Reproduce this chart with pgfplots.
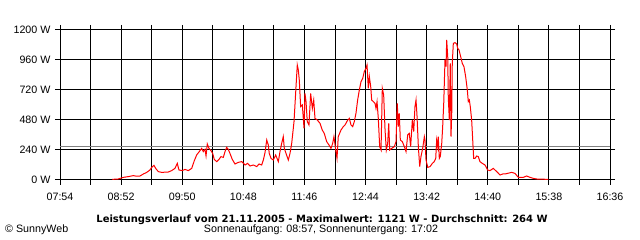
\documentclass[border=0pt]{standalone}
\usepackage{pgfplots}
\pgfplotsset{compat=1.18}
\usepackage{fontspec}
\setmainfont{Liberation Sans}
\newfontfamily\titlefont{DejaVu Sans}
\definecolor{avggray}{RGB}{128,128,128}
\begin{document}
\begin{tikzpicture}[x=1pt,y=1pt]
\useasboundingbox (0,0) rectangle (640,240);
\begin{axis}[
  at={(60pt,60pt)}, anchor=south west,
  scale only axis, width=550pt, height=150pt,
  xmin=474, xmax=996, ymin=0, ymax=1200,
  axis line style={black, line width=1pt},
  xtick={474,532,590,648,706,764,822,880,938,996},
  xticklabels={07:54,08:52,09:50,10:48,11:46,12:44,13:42,14:40,15:38,16:36},
  minor xtick={503,561,619,677,735,793,851,909,967},
  ytick={0,240,480,720,960,1200},
  yticklabels={0 W,240 W,480 W,720 W,960 W,1200 W},
  grid=both,
  major grid style={black, line width=1pt},
  minor grid style={black, line width=1pt},
  tick align=outside,
  major tick length=5pt, minor tick length=5pt,
  tick style={black, line width=1pt},
  every tick label/.append style={font=\fontsize{10.7}{12}\selectfont},
  xticklabel style={yshift=-4pt},
  yticklabel style={xshift=-1pt},
]
\addplot[avggray, line width=1pt] coordinates {(474,264) (996,264)};
\addplot[red, line width=1pt] table {
t W
523.6 5
529.3 8
534.1 21
538.8 27
543.6 35
546.8 30
549.9 32
553.1 48
556.3 61
559.4 80
561 101
563.2 117
564.8 93
567.3 67
570.5 61
576.8 64
580 75
583.1 93
585.3 133
586.9 80
590.1 75
592.6 85
595.8 75
599 93
601.5 155
603.7 200
606.9 235
608.5 253
610 227
611.6 245
612.6 192
613.8 288
615.4 253
617.3 235
618.9 213
620.4 165
622.7 147
624.9 165
626.8 187
629 181
630.6 227
632.2 261
633.7 245
635.3 213
637.5 165
640.1 128
643.2 141
646.5 147
649.6 120
652.1 133
654.3 112
657.5 120
660.7 107
662.9 128
665.4 120
667 160
668.6 220
670.2 320
671.7 280
672.6 213
674.3 173
676.4 160
678.7 200
680 173
681.2 147
682.8 227
684.4 293
685.9 347
686.9 253
688.5 213
690.7 160
692.3 213
693.9 293
696.1 467
698 747
699.2 920
700.2 880
701.1 800
702.4 587
704 600
705.6 413
706.5 693
707.5 627
708.7 467
710.3 440
711.9 693
713.5 573
714.8 640
716 493
718.2 480
720.8 453
722.9 400
724.8 373
727.1 307
729.3 280
731.2 253
732.8 293
734 347
735.7 240
736.9 173
738.1 347
740.7 400
742.9 427
744.5 440
747.1 480
748.6 493
750.2 440
751.8 427
753.3 467
754.9 533
756.5 640
758.1 720
759.7 787
761.3 813
762.8 867
764.4 893
765.4 920
766.6 733
767.6 827
768.9 747
769.8 640
771.4 627
773 613
773.9 573
774.9 627
776.1 493
777.4 267
778.7 240
779.9 733
781.2 680
782.5 400
783.7 240
785 293
786 453
786.9 240
788.8 253
791.3 267
792.9 307
794.1 613
795.1 427
796 533
797 320
798.9 307
800.8 267
802.4 227
804 360
805.5 373
806.8 267
808.4 480
809.7 387
810.9 587
811.9 640
812.8 520
814.1 267
815.4 107
816.6 187
818.2 253
819.8 347
820.4 320
821.4 160
823 101
825.2 107
827.4 133
829.2 147
830.6 173
831.5 320
832.5 267
833 347
834 173
834.9 187
836.3 293
837.2 427
838.2 613
839.4 960
840.4 907
841 1120
842 987
842.5 667
843.5 480
844.4 933
845.1 347
845.8 533
846.3 933
847.3 1093
848.9 1099
850.5 1088
851.5 1053
852.7 1040
854.3 987
855.8 933
857.4 907
859 827
860.6 720
861.5 627
862.5 640
863.4 587
864.7 480
865.7 320
866.6 173
867.9 173
869.5 192
871 187
872.6 147
874.8 133
877.4 120
879.9 80
882.1 75
885.2 93
888.5 67
891.6 40
894.2 48
896.3 48
902.7 61
905.8 53
909 21
913.7 21
916.9 32
920.1 21
923.2 13
926.4 8
937.4 5
};
\end{axis}
\node[font=\titlefont\bfseries\fontsize{10}{12}\selectfont, inner sep=0pt, anchor=base] at (322,17.3) {Leistungsverlauf vom 21.11.2005 - Maximalwert: 1121 W - Durchschnitt: 264 W};
\node[font=\fontsize{10.7}{12}\selectfont, inner sep=0pt, anchor=base] at (321,7.3) {Sonnenaufgang: 08:57, Sonnenuntergang: 17:02};
\node[font=\fontsize{10.7}{12}\selectfont, inner sep=0pt, anchor=base west] at (5,7.3) {\textcopyright{} SunnyWeb};
\end{tikzpicture}
\end{document}
